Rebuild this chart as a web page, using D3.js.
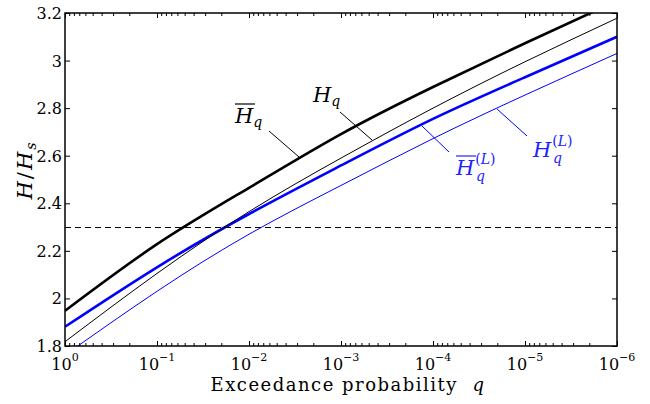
<!DOCTYPE html>
<html>
<head>
<meta charset="utf-8">
<script src="https://cdn.jsdelivr.net/npm/d3@7"></script>
<style>
  html, body { margin: 0; padding: 0; background: #fff; }
  svg { display: block; }
</style>
</head>
<body>
<script>
// ---------------- data ----------------
const qValues   = [1, 1e-1, 1e-2, 1e-3, 1e-4, 1e-5, 1e-6];
const HbarQ     = [1.948, 2.228, 2.465, 2.691, 2.889, 3.073, 3.251];   // thick black
const HQ        = [1.818, 2.105, 2.365, 2.590, 2.800, 2.995, 3.178];   // thin black
const HbarQL    = [1.881, 2.131, 2.355, 2.559, 2.755, 2.930, 3.100];   // thick blue
const HQL       = [1.762, 2.030, 2.270, 2.475, 2.672, 2.855, 3.030];   // thin blue
const thresholdValue = 2.3;
const yTickValues = [1.8, 2, 2.2, 2.4, 2.6, 2.8, 3, 3.2];
const yTickLabels = ["1.8", "2", "2.2", "2.4", "2.6", "2.8", "3", "3.2"];
const xTickExponents = ["0", "\u22121", "\u22122", "\u22123", "\u22124", "\u22125", "\u22126"];

// ---------------- layout ----------------
const W = 650, H = 404;
const L = 65, R = 617, T = 13, B = 346;
const FONT = "'DejaVu Serif', 'Liberation Serif', serif";

const svg = d3.select("body").append("svg").attr("width", W).attr("height", H)
  .attr("font-family", FONT).style("font-family", FONT);

const x = d3.scaleLog().domain([1, 1e-6]).range([L, R]);
const y = d3.scaleLinear().domain([1.8, 3.2]).range([B, T]);

// minor ticks
const minorQ = [];
for (let n = 1; n <= 6; n++) for (let k = 2; k <= 9; k++) minorQ.push(k * Math.pow(10, -n));

function styleAxis(g) {
  g.attr("font-family", null);
  g.select(".domain").remove();
  g.selectAll(".tick line").attr("stroke", "#000").attr("stroke-width", 1);
}

svg.append("g").attr("transform", `translate(0,${B})`)
  .call(d3.axisBottom(x).tickValues(qValues).tickSize(-5).tickFormat(() => "")).call(styleAxis);
svg.append("g").attr("transform", `translate(0,${B})`)
  .call(d3.axisBottom(x).tickValues(minorQ).tickSize(-3).tickFormat(() => "")).call(styleAxis);
svg.append("g").attr("transform", `translate(0,${T})`)
  .call(d3.axisTop(x).tickValues(qValues).tickSize(-5).tickFormat(() => "")).call(styleAxis);
svg.append("g").attr("transform", `translate(0,${T})`)
  .call(d3.axisTop(x).tickValues(minorQ).tickSize(-3).tickFormat(() => "")).call(styleAxis);
svg.append("g").attr("transform", `translate(${L},0)`)
  .call(d3.axisLeft(y).tickValues(yTickValues).tickSize(-5).tickFormat(() => "")).call(styleAxis);
svg.append("g").attr("transform", `translate(${R},0)`)
  .call(d3.axisRight(y).tickValues(yTickValues).tickSize(-5).tickFormat(() => "")).call(styleAxis);

// tick labels
svg.append("g").selectAll("text").data(yTickValues).join("text")
  .attr("x", L - 3).attr("y", d => y(d) + 6)
  .attr("text-anchor", "end").attr("font-size", 16).style("font-family", FONT)
  .text((d, i) => yTickLabels[i]);

const xl = svg.append("g").selectAll("text").data(qValues).join("text")
  .attr("x", d => x(d)).attr("y", 370)
  .attr("text-anchor", "middle").attr("font-size", 16).style("font-family", FONT);
xl.append("tspan").text("10");
xl.append("tspan").attr("font-size", 11).attr("dy", -9).text((d, i) => xTickExponents[i]);

// curves
svg.append("clipPath").attr("id", "clip").append("rect")
  .attr("x", L).attr("y", T).attr("width", R - L).attr("height", B - T);
const plot = svg.append("g").attr("clip-path", "url(#clip)");

const line = d3.line().x(d => x(d.q)).y(d => y(d.v)).curve(d3.curveNatural);
const series = [
  { vals: HQL,    color: "#0000ff", w: 1 },
  { vals: HbarQL, color: "#0000ff", w: 2.6 },
  { vals: HQ,     color: "#000",    w: 1 },
  { vals: HbarQ,  color: "#000",    w: 2.6 }
];
series.forEach(s => {
  plot.append("path")
    .datum(qValues.map((q, i) => ({ q, v: s.vals[i] })))
    .attr("d", line).attr("fill", "none")
    .attr("stroke", s.color).attr("stroke-width", s.w);
});

// dashed threshold
const yTh = Math.round(y(thresholdValue)) + 0.5;
plot.append("line")
  .attr("x1", x(1)).attr("x2", x(1e-6))
  .attr("y1", yTh).attr("y2", yTh)
  .attr("stroke", "#000").attr("stroke-width", 1).attr("stroke-dasharray", "6,4");

// frame
svg.append("rect").attr("x", L).attr("y", T).attr("width", R - L).attr("height", B - T)
  .attr("fill", "none").attr("stroke", "#000").attr("stroke-width", 1.5);

// annotations (leader lines)
const leaders = [
  { x1: 269, y1: 131, x2: 299, y2: 157, c: "#000" },
  { x1: 340, y1: 112, x2: 372, y2: 140, c: "#000" },
  { x1: 449, y1: 152, x2: 422, y2: 126, c: "#0000ff" },
  { x1: 527, y1: 136, x2: 497, y2: 109, c: "#0000ff" }
];
leaders.forEach(l => svg.append("line")
  .attr("x1", l.x1).attr("y1", l.y1).attr("x2", l.x2).attr("y2", l.y2)
  .attr("stroke", l.c).attr("stroke-width", 1));

function label(xp, yb, color, opts) {
  const g = svg.append("g");
  const t = g.append("text").attr("x", xp).attr("y", yb).attr("font-size", 21)
    .style("fill", color).style("font-family", FONT);
  t.append("tspan").attr("font-style", "italic").text("H");
  if (opts.sup) {
    t.append("tspan").attr("font-size", 14).attr("dx", 1).attr("dy", -11).text("(");
    t.append("tspan").attr("font-size", 14).attr("font-style", "italic").text("L");
    t.append("tspan").attr("font-size", 14).text(")");
    g.append("text").attr("x", xp + 20).attr("y", yb + 6).attr("font-size", 14)
      .attr("font-style", "italic").style("fill", color).style("font-family", FONT).text("q");
  } else {
    t.append("tspan").attr("font-size", 14).attr("font-style", "italic").attr("dy", 4).text("q");
  }
  if (opts.bar) {
    g.append("line").attr("x1", xp).attr("x2", xp + 20)
      .attr("y1", yb - 19).attr("y2", yb - 19).attr("stroke", color).attr("stroke-width", 1.2);
  }
}
label(235, 123, "#000", { bar: true });
label(313, 102, "#000", {});
label(456, 175, "#2222ff", { bar: true, sup: true });
label(533, 157, "#2222ff", { sup: true });

// axis titles
const xt = svg.append("text").attr("x", 348).attr("y", 391)
  .attr("text-anchor", "middle").attr("font-size", 18).attr("letter-spacing", 1.5)
  .style("font-family", FONT).style("white-space", "pre");
xt.append("tspan").text("Exceedance probability\u00a0\u00a0");
xt.append("tspan").attr("font-style", "italic").text("q");

const yt = svg.append("text").attr("transform", "translate(32,170) rotate(-90)")
  .attr("text-anchor", "middle").attr("font-size", 21).attr("letter-spacing", 2)
  .style("font-family", FONT);
yt.append("tspan").attr("font-style", "italic").text("H");
yt.append("tspan").text("/");
yt.append("tspan").attr("font-style", "italic").text("H");
yt.append("tspan").attr("font-style", "italic").attr("font-size", 14).attr("dy", 4).text("s");
</script>
</body>
</html>
